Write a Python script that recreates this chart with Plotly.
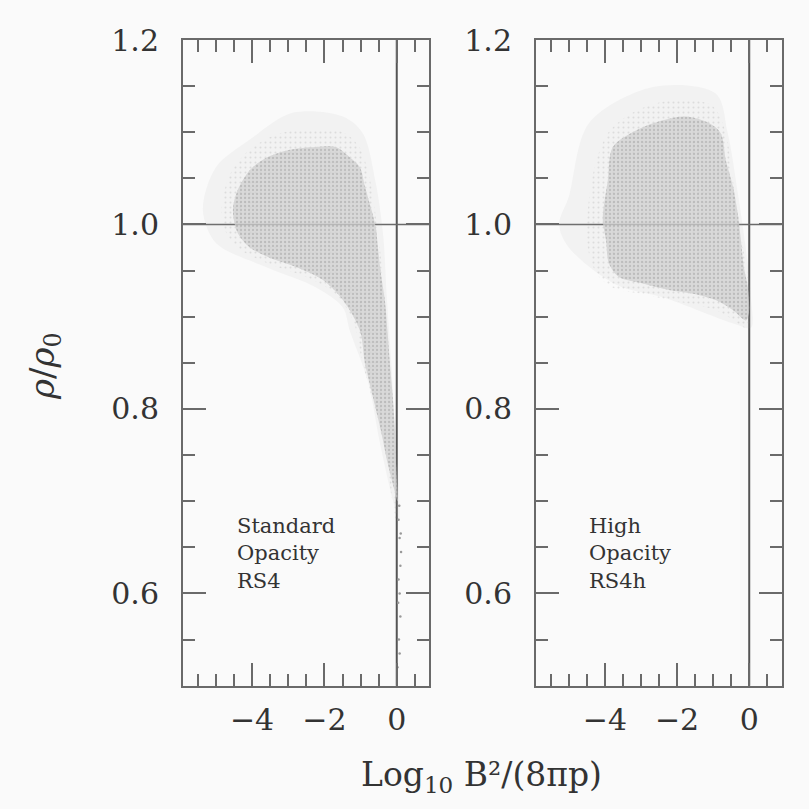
import plotly.graph_objects as go

# ---- data: outlines of the point clouds in (log10 B^2/8pi p, rho/rho0) ----
# Standard opacity run RS4: dense body (closed outline)
rs4_body_x = [-4.53, -4.40, -4.06, -3.62, -2.96, -2.24, -1.69, -1.30, -1.02, -0.88,
              -0.72, -0.58, -0.52, -0.44, -0.33, -0.25, -0.19, -0.11, -0.05, -0.02,
              0.02, -0.05, -0.25, -0.44, -0.66, -0.88, -1.02, -1.49, -2.05, -2.79,
              -3.51, -4.06, -4.40]
rs4_body_y = [1.016, 1.037, 1.059, 1.072, 1.081, 1.084, 1.084, 1.073, 1.062, 1.041,
              1.019, 0.997, 0.975, 0.947, 0.918, 0.882, 0.850, 0.813, 0.777, 0.741,
              0.700, 0.710, 0.741, 0.777, 0.813, 0.850, 0.885, 0.918, 0.940, 0.954,
              0.964, 0.975, 0.991]
# RS4: thinner fringe round the body
rs4_fringe_x = [-4.85, -4.60, -4.10, -3.30, -2.40, -1.50, -1.05, -0.75, -0.55, -0.40,
                -0.25, -0.12, -0.02, 0.04, -0.02, -0.30, -0.60, -0.95, -1.20, -1.70,
                -2.50, -3.50, -4.30, -4.70]
rs4_fringe_y = [1.016, 1.055, 1.080, 1.098, 1.103, 1.100, 1.085, 1.050, 1.000, 0.950,
                0.880, 0.810, 0.750, 0.680, 0.680, 0.750, 0.800, 0.850, 0.895, 0.925,
                0.943, 0.957, 0.972, 0.990]
# RS4: sparse outer halo
rs4_halo_x = [-5.36, -5.00, -4.06, -2.88, -1.49, -0.94, -0.58, -0.38, -0.27, -0.15,
              -0.05, 0.05, 0.06, -0.10, -0.45, -0.80, -1.30, -1.49, -2.24, -3.62, -5.00]
rs4_halo_y = [1.016, 1.062, 1.092, 1.121, 1.117, 1.099, 1.045, 0.990, 0.918, 0.850,
              0.777, 0.720, 0.680, 0.700, 0.760, 0.830, 0.885, 0.910, 0.932, 0.954, 0.980]
# RS4: isolated points along the low-density tail
rs4_tail_x = [0.05, 0.08, 0.12, 0.10, 0.05, 0.08, 0.10, 0.06, 0.08, 0.02, 0.04, 0.11, 0.07]
rs4_tail_y = [0.680, 0.660, 0.645, 0.630, 0.615, 0.600, 0.575, 0.550, 0.535, 0.520,
              0.590, 0.665, 0.695]

# High opacity run RS4h: dense body
rs4h_body_x = [-3.78, -3.14, -2.39, -1.76, -1.12, -0.79, -0.65, -0.45, -0.32, -0.23,
               -0.15, -0.04, -0.01, -0.09, -0.45, -0.93, -1.56, -2.23, -2.95, -3.61,
               -3.89, -3.97, -4.06, -3.92]
rs4h_body_y = [1.084, 1.102, 1.113, 1.117, 1.110, 1.099, 1.070, 1.041, 1.012, 0.983,
               0.954, 0.932, 0.904, 0.896, 0.907, 0.918, 0.925, 0.929, 0.936, 0.943,
               0.958, 0.983, 1.005, 1.048]
# RS4h: fringe
rs4h_fringe_x = [-4.50, -4.30, -3.90, -3.20, -2.40, -1.60, -1.00, -0.65, -0.50, -0.30,
                 -0.15, 0.00, 0.03, -0.10, -0.50, -1.00, -2.20, -3.00, -3.70, -4.20, -4.45]
rs4h_fringe_y = [1.000, 1.060, 1.100, 1.122, 1.133, 1.135, 1.128, 1.100, 1.060, 1.010,
                 0.970, 0.935, 0.895, 0.888, 0.898, 0.908, 0.918, 0.925, 0.930, 0.945, 0.970]
# RS4h: sparse outer halo
rs4h_halo_x = [-5.27, -5.00, -4.44, -2.67, -0.93, -0.60, -0.30, -0.05, 0.05, 0.05,
               -0.40, -2.39, -3.70, -5.00]
rs4h_halo_y = [1.000, 1.030, 1.110, 1.149, 1.142, 1.100, 1.030, 0.960, 0.920, 0.888,
               0.892, 0.921, 0.935, 0.975]

x_range = [-5.91, 0.9]
y_range = [0.5, 1.2]

SERIF = "DejaVu Serif"
AX_COL = "#6a6a6a"
TXT_COL = "#333333"
BG = "#fafafa"

fig = go.Figure()


def cloud(xs, ys, xa, ya, fill, pattern=None):
    fig.add_trace(go.Scatter(
        x=xs + xs[:1], y=ys + ys[:1], xaxis=xa, yaxis=ya,
        mode="lines", fill="toself", fillcolor=fill,
        line=dict(width=0, shape="spline", smoothing=0.9),
        fillpattern=pattern, hoverinfo="skip", showlegend=False))


halo_fill = "rgba(170,170,170,0.09)"
fringe_fill = "rgba(175,175,175,0.24)"
body_fill = "rgba(192,192,192,0.75)"
body_pat = dict(shape=".", fgcolor="rgba(115,115,115,0.55)", bgcolor="rgba(208,208,208,0.75)",
                size=4, solidity=0.25, fillmode="overlay")
fringe_pat = dict(shape=".", fgcolor="rgba(140,140,140,0.45)", bgcolor="rgba(0,0,0,0)",
                  size=5, solidity=0.12, fillmode="overlay")

for xa, ya, hx, hy, fx, fy, bx, by in (
        ("x", "y", rs4_halo_x, rs4_halo_y, rs4_fringe_x, rs4_fringe_y, rs4_body_x, rs4_body_y),
        ("x2", "y2", rs4h_halo_x, rs4h_halo_y, rs4h_fringe_x, rs4h_fringe_y, rs4h_body_x, rs4h_body_y)):
    cloud(hx, hy, xa, ya, halo_fill)
    cloud(fx, fy, xa, ya, fringe_fill, fringe_pat)
    cloud(bx, by, xa, ya, body_fill, body_pat)

fig.add_trace(go.Scatter(x=rs4_tail_x, y=rs4_tail_y, xaxis="x", yaxis="y", mode="markers",
                         marker=dict(size=2.5, color="#999999"), hoverinfo="skip",
                         showlegend=False))

axis_common = dict(
    showline=True, linecolor=AX_COL, linewidth=2, mirror="ticks",
    ticks="inside", ticklen=23, tickwidth=1.5, tickcolor=AX_COL,
    showgrid=False, zeroline=False, automargin=False,
    tickfont=dict(family=SERIF, size=30, color=TXT_COL),
)
xaxis_common = dict(axis_common, range=x_range, tick0=0, dtick=2,
                    minor=dict(dtick=0.5, ticks="inside", ticklen=12, tickwidth=1.5,
                               tickcolor=AX_COL, showgrid=False),
                    ticklabelstandoff=6)
yaxis_common = dict(axis_common, range=y_range, tick0=0, dtick=0.2, tickformat=".1f",
                    minor=dict(dtick=0.05, ticks="inside", ticklen=12, tickwidth=1.5,
                               tickcolor=AX_COL, showgrid=False),
                    ticklabelstandoff=16)

H = 809.0
fig.update_layout(
    width=809, height=809,
    margin=dict(l=0, r=0, t=0, b=0, autoexpand=False),
    paper_bgcolor=BG, plot_bgcolor=BG,
    xaxis=dict(xaxis_common, domain=[183 / H, 429.3 / H], anchor="y"),
    yaxis=dict(yaxis_common, domain=[1 - 685.7 / H, 1 - 40 / H], anchor="x"),
    xaxis2=dict(xaxis_common, domain=[536 / H, 781.7 / H], anchor="y2"),
    yaxis2=dict(yaxis_common, domain=[1 - 685.7 / H, 1 - 40 / H], anchor="x2"),
)

# reference lines: rho/rho0 = 1 and log10 B^2/(8 pi p) = 0
for xa, ya in (("x", "y"), ("x2", "y2")):
    fig.add_shape(type="line", xref=xa, yref=f"{ya} domain", x0=0, x1=0, y0=0, y1=1,
                  line=dict(color="#555555", width=2), layer="below")
    fig.add_shape(type="line", xref=f"{xa} domain", yref=ya, x0=0, x1=1, y0=1.0, y1=1.0,
                  line=dict(color="#6a6a6a", width=1.5), layer="below")

# run labels
label_font = dict(family=SERIF, size=21, color=TXT_COL)
fig.add_annotation(x=-4.47, y=0.688, xref="x", yref="y", xanchor="left", yanchor="top",
                   text="Standard<br>Opacity<br>RS4", showarrow=False, align="left",
                   font=label_font)
fig.add_annotation(x=-4.5, y=0.688, xref="x2", yref="y2", xanchor="left", yanchor="top",
                   text="High<br>Opacity<br>RS4h", showarrow=False, align="left",
                   font=label_font)

# axis titles
fig.add_annotation(x=481 / H, y=1 - 776 / H, xref="paper", yref="paper",
                   xanchor="center", yanchor="middle", showarrow=False,
                   text="Log<sub>10</sub> B²/(8πp)",
                   font=dict(family=SERIF, size=33, color=TXT_COL))
fig.add_annotation(x=44 / H, y=1 - 366 / H, xref="paper", yref="paper",
                   xanchor="center", yanchor="middle", showarrow=False, textangle=-90,
                   text="<i>ρ</i>/<i>ρ</i><sub>0</sub>",
                   font=dict(family=SERIF, size=34, color=TXT_COL))

fig.write_html("out.html")
